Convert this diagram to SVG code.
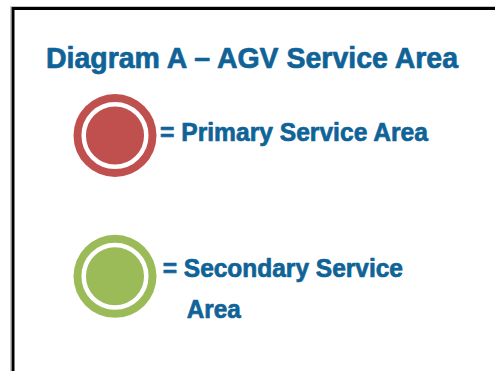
<svg xmlns="http://www.w3.org/2000/svg" width="495" height="371" viewBox="0 0 495 371">
  <style>
    .t { font-family: "Liberation Sans", Arial, sans-serif; font-weight: bold; fill: #0f6397; stroke: #0f6397; stroke-width: 0.7; stroke-linejoin: round; }
    .ring { fill: none; stroke: #ffffff; stroke-width: 4.5; }
  </style>
  <rect x="0" y="0" width="495" height="371" fill="#ffffff"/>
  <g id="frame">
    <path d="M10.5 371 V6.5 H495" fill="none" stroke="#c8c8c8" stroke-width="1"/>
    <path d="M13 371 V8.5 H495" fill="none" stroke="#000000" stroke-width="3"/>
  </g>
  <g id="title">
    <text class="t" x="46" y="67.7" font-size="29.5" textLength="412" lengthAdjust="spacingAndGlyphs">Diagram A – AGV Service Area</text>
  </g>
  <g id="primary">
    <circle cx="115" cy="135.5" r="41.5" fill="#c0504d"/>
    <circle class="ring" cx="115" cy="135.5" r="31.3"/>
    <text class="t" x="160" y="141" font-size="26.5" textLength="268" lengthAdjust="spacingAndGlyphs">= Primary Service Area</text>
  </g>
  <g id="secondary">
    <circle cx="115" cy="276.3" r="41.5" fill="#9bbb59"/>
    <circle class="ring" cx="115" cy="276.3" r="31.3"/>
    <text class="t" x="162.7" y="277.3" font-size="26" textLength="240.3" lengthAdjust="spacingAndGlyphs">= Secondary Service</text>
    <text class="t" x="186.7" y="318" font-size="26" textLength="54" lengthAdjust="spacingAndGlyphs">Area</text>
  </g>
</svg>
